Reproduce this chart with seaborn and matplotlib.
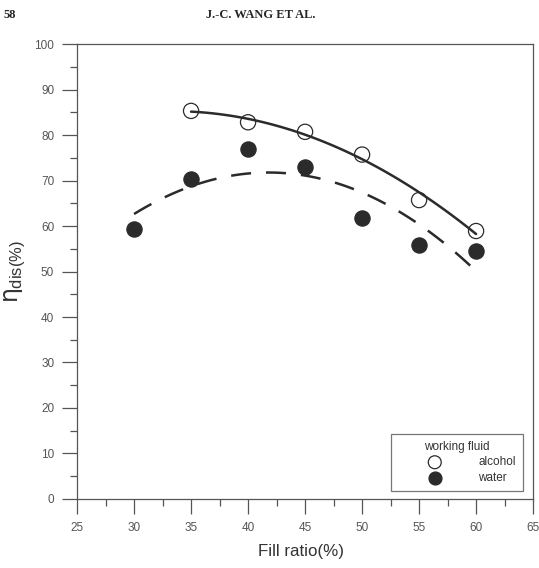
import matplotlib.pyplot as plt
import seaborn as sns
import numpy as np
import pandas as pd
from matplotlib.ticker import MultipleLocator

# Dados
fill_alcohol = [35, 40, 45, 50, 55, 60]
eta_alcohol = [85.3, 82.8, 80.7, 75.7, 65.7, 58.9]
fill_water = [30, 35, 40, 45, 50, 55, 60]
eta_water = [59.4, 70.4, 76.9, 72.9, 61.7, 55.9, 54.6]

df_alc = pd.DataFrame({'fill': fill_alcohol, 'eta': eta_alcohol})
df_wat = pd.DataFrame({'fill': fill_water, 'eta': eta_water})

sns.set_style('ticks')
plt.rcParams['font.family'] = ['Liberation Sans', 'DejaVu Sans']
plt.rcParams['mathtext.fontset'] = 'custom'
plt.rcParams['mathtext.rm'] = 'Liberation Sans'
plt.rcParams['mathtext.it'] = 'DejaVu Sans'

dark = '#2b2b2b'
grey = '#555555'

fig = plt.figure(figsize=(5.39, 5.68), dpi=100)
ax = fig.add_axes([0.143, 0.1215, 0.846, 0.801])

# curvas de ajuste (polinómio de 2ª ordem)
sns.regplot(data=df_alc, x='fill', y='eta', order=2, ci=None, scatter=False,
            ax=ax, label='_nolegend_',
            line_kws={'color': dark, 'lw': 1.8})
sns.regplot(data=df_wat, x='fill', y='eta', order=2, ci=None, scatter=False,
            ax=ax, label='_nolegend_',
            line_kws={'color': dark, 'lw': 1.8, 'dashes': (8, 6)})

sns.scatterplot(data=df_alc, x='fill', y='eta', ax=ax, marker='o', s=120,
                facecolor='none', edgecolor=dark, linewidth=0.9,
                label='alcohol', zorder=3)
sns.scatterplot(data=df_wat, x='fill', y='eta', ax=ax, marker='o', s=120,
                color=dark, edgecolor=dark, linewidth=0.9,
                label='water', zorder=3)

ax.set_xlim(25, 65)
ax.set_ylim(0, 100)
ax.xaxis.set_major_locator(MultipleLocator(5))
ax.xaxis.set_minor_locator(MultipleLocator(2.5))
ax.yaxis.set_major_locator(MultipleLocator(10))
ax.yaxis.set_minor_locator(MultipleLocator(5))
ax.tick_params(which='major', direction='out', length=10.5, width=0.9,
               color=grey, labelcolor=grey, labelsize=8.5, pad=6)
ax.tick_params(which='minor', direction='out', length=5, width=0.9, color=grey)
for s in ax.spines.values():
    s.set_color(grey)
    s.set_linewidth(0.9)

ax.set_xlabel('Fill ratio(%)', fontsize=12.2, color='#333333')
ax.xaxis.set_label_coords(0.492, -0.099)
ax.set_ylabel(r'$\eta_{\rm dis(\%)}$', fontsize=17, color='#333333', labelpad=5)

leg = ax.legend(title='working fluid', loc='lower right',
                bbox_to_anchor=(0.978, 0.0176), borderaxespad=0,
                fontsize=8.5, title_fontsize=8.5, frameon=True,
                fancybox=False, edgecolor=grey, handlelength=6.2,
                handletextpad=0.6, borderpad=0.6, labelspacing=0.3,
                markerscale=0.85)
leg.get_frame().set_linewidth(0.9)
for t in leg.get_texts():
    t.set_color('#333333')
leg.get_title().set_color('#333333')

# cabeçalho da página
fig.text(0.006, 0.974, '58', fontsize=9, fontweight='bold',
         family='Liberation Serif', va='center')
fig.text(0.484, 0.974, 'J.-C. WANG ET AL.', fontsize=9, fontweight='bold',
         family='Liberation Serif', va='center', ha='center')

plt.savefig('out.png', dpi=100)
